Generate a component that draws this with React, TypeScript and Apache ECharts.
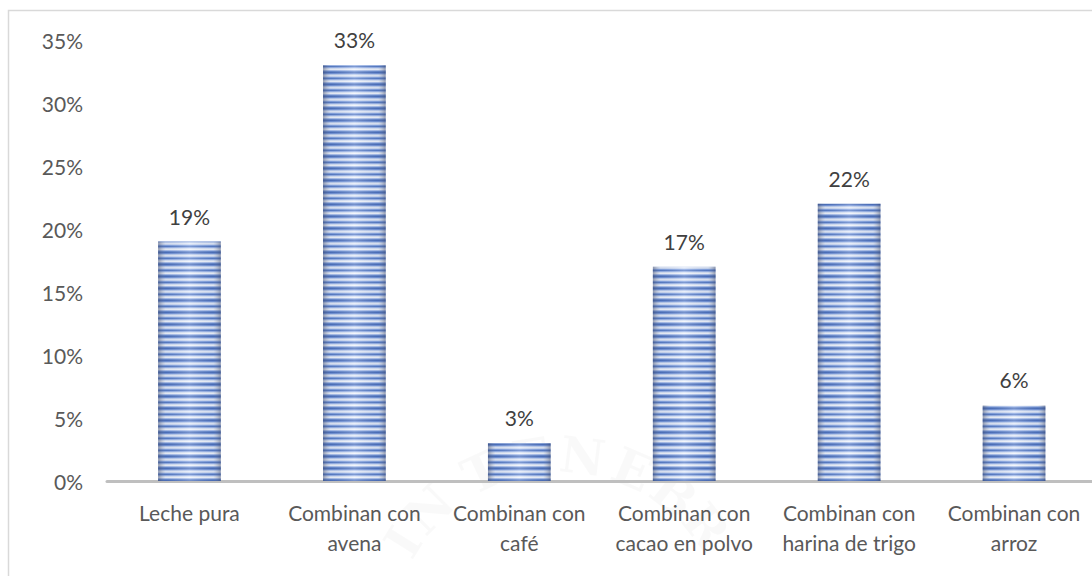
import React, { useEffect, useRef } from "react";
import * as echarts from "echarts";

const categories = [
  "Leche pura",
  "Combinan con\navena",
  "Combinan con\ncafé",
  "Combinan con\ncacao en polvo",
  "Combinan con\nharina de trigo",
  "Combinan con\narroz",
];
const values = [19, 33, 3, 17, 22, 6];
const yTicks = [0, 5, 10, 15, 20, 25, 30, 35];

const watermarkLetters = ["I", "N", "T", "E", "N", "E", "B", "R"];
const watermarkAngles = [-58, -45, -25, -9, 7, 23, 38, 52];

const FONT = "Lato";

function makeStripePattern(): HTMLCanvasElement {
  const c = document.createElement("canvas");
  c.width = 4;
  c.height = 12;
  const ctx = c.getContext("2d")!;
  const rows = [
    "#3c63b6",
    "#6589d3",
    "#b4c7ec",
    "#e0e8f8",
    "#c6d5f2",
    "#7799dd",
    "#4870c0",
    "#8eaae4",
    "#d4e0f5",
    "#eef3fc",
    "#a3baea",
    "#587ec9",
  ];
  rows.forEach((col, i) => {
    ctx.fillStyle = col;
    ctx.fillRect(0, i, 4, 1);
  });
  return c;
}

export default function App() {
  const ref = useRef<HTMLDivElement>(null);
  useEffect(() => {
    if (!ref.current) return;
    const chart = echarts.init(ref.current, undefined, { renderer: "svg" });
    const pattern = makeStripePattern();
    const cx = 560;
    const cy = 640;
    const r = 185;
    const watermark = watermarkLetters.map((ch, i) => {
      const a = (watermarkAngles[i] * Math.PI) / 180;
      return {
        type: "text",
        silent: true,
        z: 0,
        x: cx + r * Math.sin(a),
        y: cy - r * Math.cos(a),
        rotation: -a,
        style: {
          text: ch,
          fontSize: 50,
          fontWeight: "bold",
          fontFamily: "DejaVu Serif",
          fill: "rgba(0,0,0,0.022)",
          align: "center",
          verticalAlign: "middle",
        },
      };
    });
    chart.setOption({
      animation: false,
      backgroundColor: "#ffffff",
      graphic: [
        {
          type: "rect",
          silent: true,
          z: 0,
          shape: { x: 8.5, y: 10.5, width: 1200, height: 700 },
          style: { fill: "none", stroke: "#d9d9d9", lineWidth: 1.5 },
        },
        ...watermark,
      ],
      grid: { left: 107, right: 3.5, top: 40, bottom: 95, containLabel: false },
      xAxis: {
        type: "category",
        data: categories,
        axisLine: { show: true, lineStyle: { color: "#bfbfbf", width: 3 } },
        axisTick: { show: false },
        axisLabel: {
          interval: 0,
          color: "#595959",
          fontSize: 21,
          lineHeight: 30,
          margin: 16,
          fontFamily: FONT,
        },
      },
      yAxis: {
        type: "value",
        min: yTicks[0],
        max: yTicks[yTicks.length - 1],
        interval: 5,
        axisLine: { show: false },
        axisTick: { show: false },
        splitLine: { show: false },
        axisLabel: {
          formatter: "{value}%",
          color: "#595959",
          fontSize: 21,
          margin: 24,
          fontFamily: FONT,
        },
      },
      series: [
        {
          type: "bar",
          data: values,
          barWidth: "38%",
          z: 2,
          itemStyle: {
            color: { image: pattern, repeat: "repeat" } as any,
          },
          label: {
            show: true,
            position: "top",
            distance: 15,
            formatter: "{c}%",
            color: "#404040",
            fontSize: 21,
            fontFamily: FONT,
          },
        },
        {
          type: "bar",
          data: values,
          barWidth: "38%",
          barGap: "-100%",
          z: 3,
          silent: true,
          itemStyle: {
            color: new echarts.graphic.LinearGradient(0, 0, 1, 0, [
              { offset: 0, color: "rgba(70,80,110,0.55)" },
              { offset: 0.12, color: "rgba(150,160,180,0.15)" },
              { offset: 0.5, color: "rgba(255,255,255,0.3)" },
              { offset: 0.88, color: "rgba(150,160,180,0.15)" },
              { offset: 1, color: "rgba(70,80,110,0.55)" },
            ]),
          },
        },
      ],
    });
    return () => chart.dispose();
  }, []);
  return (
    <div
      ref={ref}
      style={{ position: "fixed", left: 0, top: 0, width: 1100, height: 576 }}
    />
  );
}
